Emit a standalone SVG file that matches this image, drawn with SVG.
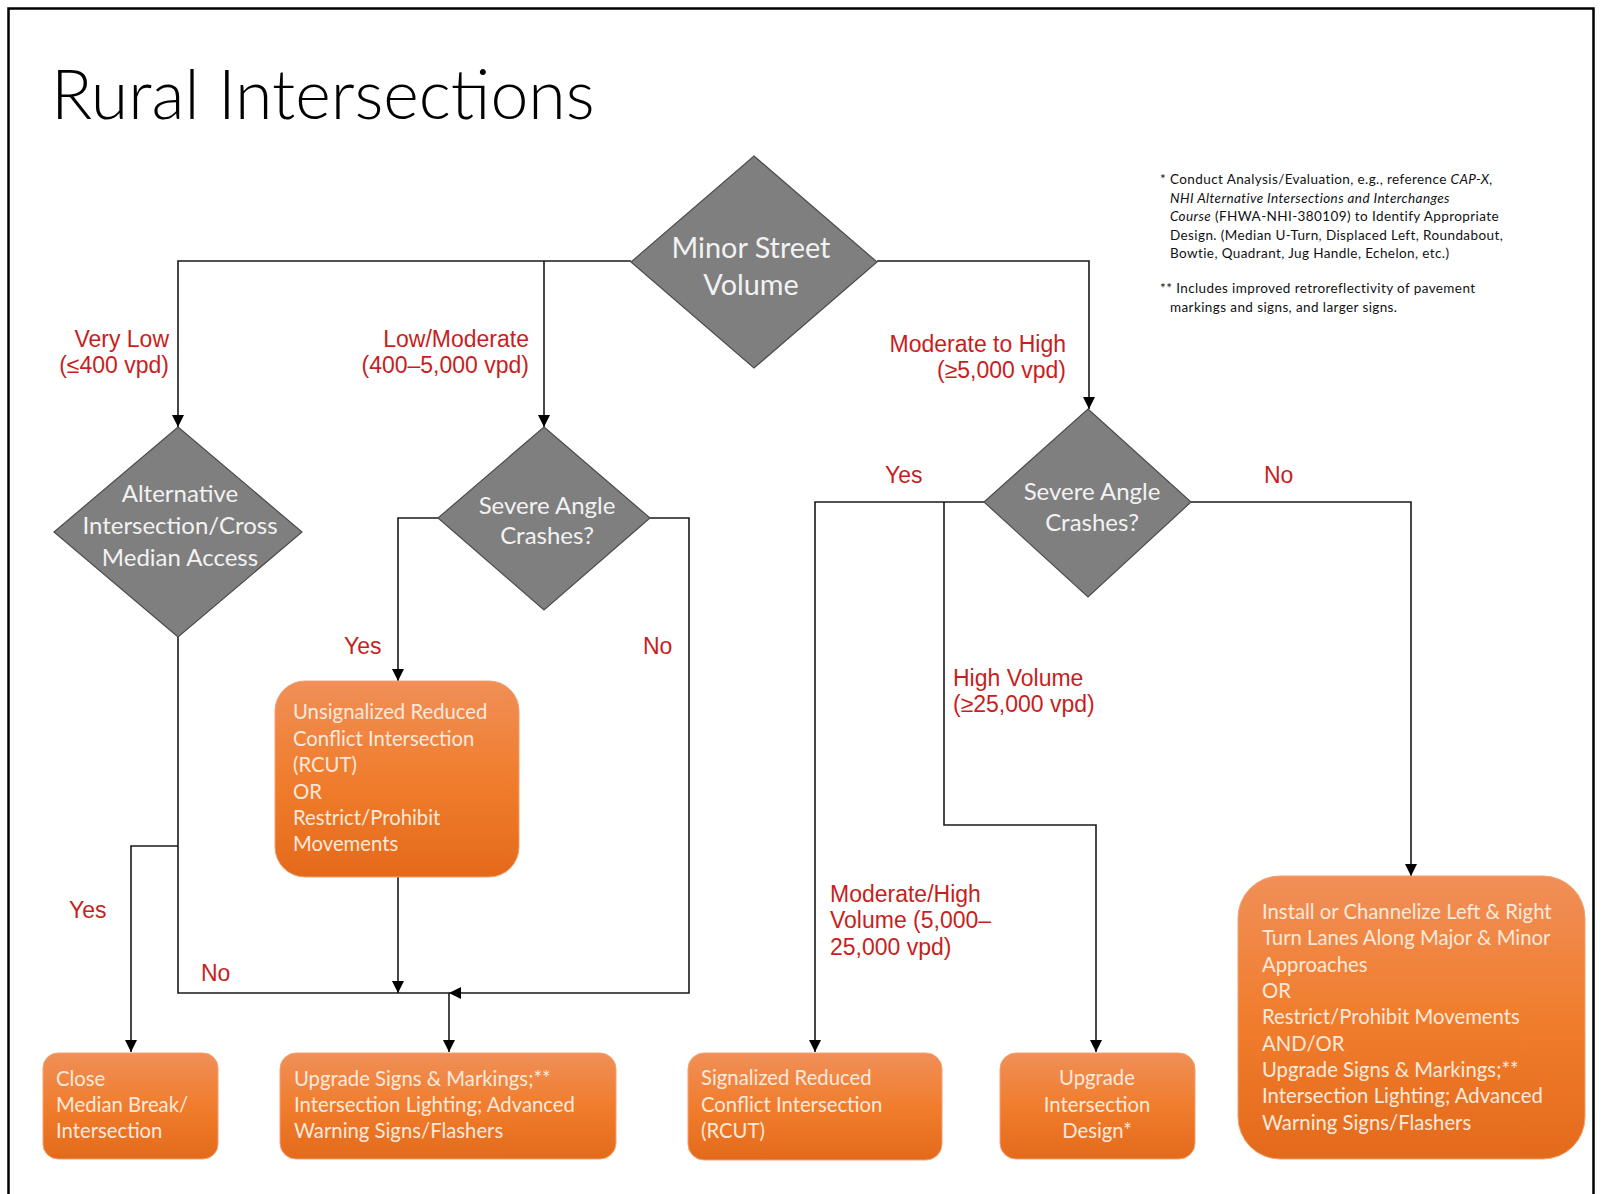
<svg xmlns="http://www.w3.org/2000/svg" width="1602" height="1194" viewBox="0 0 1602 1194">
<style>
.frame{fill:none;stroke:#000;stroke-width:2.5}
.title{font-family:Lato,"Open Sans",sans-serif;font-weight:300;font-size:68px;fill:#000}
.dia{fill:#7f7f7f;stroke:#4d4d4d;stroke-width:1.2}
.dt{font-family:Lato,"Open Sans",sans-serif;fill:#f2f2f2;text-anchor:middle}
.box{fill:url(#og);stroke:#f3a070;stroke-width:1}
.bt{font-family:Lato,"Open Sans",sans-serif;font-size:20.3px;fill:#fde9dc}
.lbl{font-family:"Liberation Sans",Arial,sans-serif;font-size:23px;fill:#c81e1e}
.ln{fill:none;stroke:#1a1a1a;stroke-width:1.6}
.fn{font-family:Lato,"Open Sans",sans-serif;font-size:13.5px;letter-spacing:0.4px;fill:#111}
</style>
<defs>
<linearGradient id="og" x1="0" y1="0" x2="0" y2="1">
<stop offset="0" stop-color="#f08f58"/>
<stop offset="0.5" stop-color="#f07d2d"/>
<stop offset="1" stop-color="#e46a1b"/>
</linearGradient>
<marker id="ah" viewBox="0 0 12 12" markerWidth="12" markerHeight="12" refX="12" refY="6" orient="auto" markerUnits="userSpaceOnUse">
<path d="M0,0 L12,6 L0,12 z" fill="#000"/>
</marker>
</defs>
<rect width="1602" height="1194" fill="#fff"/>
<rect class="frame" x="8.5" y="8.5" width="1585" height="1200"/>
<text class="title" x="51" y="119">Rural Intersections</text>

<g id="footnote" class="fn" xml:space="preserve">
<text x="1160" y="184">* Conduct Analysis/Evaluation,  e.g.,  reference  <tspan font-style="italic">CAP-X,</tspan></text>
<text x="1170" y="202.5" font-style="italic">NHI Alternative  Intersections  and Interchanges</text>
<text x="1170" y="221"><tspan font-style="italic">Course</tspan> (FHWA-NHI-380109) to Identify Appropriate</text>
<text x="1170" y="239.5">Design. (Median  U-Turn,  Displaced Left, Roundabout,</text>
<text x="1170" y="258">Bowtie,  Quadrant,  Jug Handle,  Echelon, etc.)</text>
<text x="1160" y="293">** Includes improved  retroreflectivity  of pavement</text>
<text x="1170" y="311.5">markings  and signs, and larger  signs.</text>
</g>

<g id="connectors">
<path class="ln" d="M631,261 H178 V427" marker-end="url(#ah)"/>
<path class="ln" d="M544,261 V427" marker-end="url(#ah)"/>
<path class="ln" d="M877,261 H1089 V409" marker-end="url(#ah)"/>
<path class="ln" d="M178,637 V993 H449"/>
<path class="ln" d="M178,846 H131 V1052" marker-end="url(#ah)"/>
<path class="ln" d="M438,518 H398 V681" marker-end="url(#ah)"/>
<path class="ln" d="M398,877 V993" marker-end="url(#ah)"/>
<path class="ln" d="M650,518 H689 V993 H449" marker-end="url(#ah)"/>
<path class="ln" d="M449,993 V1052" marker-end="url(#ah)"/>
<path class="ln" d="M984,502 H815 V1052" marker-end="url(#ah)"/>
<path class="ln" d="M944,502 V825 H1096 V1052" marker-end="url(#ah)"/>
<path class="ln" d="M1191,502 H1411 V876" marker-end="url(#ah)"/>
</g>

<g id="labels" class="lbl">
<text x="169" y="347" text-anchor="end">Very Low</text>
<text x="169" y="373" text-anchor="end">(≤400 vpd)</text>
<text x="529" y="347" text-anchor="end">Low/Moderate</text>
<text x="529" y="373" text-anchor="end">(400–5,000 vpd)</text>
<text x="1066" y="352" text-anchor="end">Moderate to High</text>
<text x="1066" y="378" text-anchor="end">(≥5,000 vpd)</text>
<text x="344" y="654">Yes</text>
<text x="643" y="654">No</text>
<text x="885" y="483">Yes</text>
<text x="1264" y="483">No</text>
<text x="953" y="686">High Volume</text>
<text x="953" y="712">(≥25,000 vpd)</text>
<text x="830" y="902">Moderate/High</text>
<text x="830" y="928">Volume (5,000–</text>
<text x="830" y="955">25,000 vpd)</text>
<text x="69" y="918">Yes</text>
<text x="201" y="981">No</text>
</g>

<g id="minor-street-volume">
<polygon class="dia" points="754,156 877,262 754,368 631,262"/>
<text class="dt" font-size="28.8" x="751" y="258">Minor Street</text>
<text class="dt" font-size="28.8" x="751" y="295">Volume</text>
</g>

<g id="alt-intersection">
<polygon class="dia" points="178,427 302,532 178,637 54,532"/>
<text class="dt" font-size="24" x="180" y="502">Alternative</text>
<text class="dt" font-size="24" x="180" y="534">Intersection/Cross</text>
<text class="dt" font-size="24" x="180" y="566">Median Access</text>
</g>

<g id="severe-angle-left">
<polygon class="dia" points="544,427 650,518 544,610 438,518"/>
<text class="dt" font-size="24" x="547" y="514">Severe Angle</text>
<text class="dt" font-size="24" x="547" y="544">Crashes?</text>
</g>

<g id="severe-angle-right">
<polygon class="dia" points="1088,409 1191,502 1088,597 984,502"/>
<text class="dt" font-size="24" x="1092" y="500">Severe Angle</text>
<text class="dt" font-size="24" x="1092" y="531">Crashes?</text>
</g>

<g id="unsignalized-rcut">
<rect class="box" x="275" y="681" width="244" height="196" rx="30"/>
<text class="bt" x="293" y="719">Unsignalized Reduced</text>
<text class="bt" x="293" y="745.5">Conflict Intersection</text>
<text class="bt" x="293" y="772">(RCUT)</text>
<text class="bt" x="293" y="798.5">OR</text>
<text class="bt" x="293" y="825">Restrict/Prohibit</text>
<text class="bt" x="293" y="851">Movements</text>
</g>

<g id="close-median">
<rect class="box" x="43" y="1053" width="175" height="106" rx="15"/>
<text class="bt" x="56" y="1086">Close</text>
<text class="bt" x="56" y="1112">Median Break/</text>
<text class="bt" x="56" y="1138">Intersection</text>
</g>

<g id="upgrade-signs">
<rect class="box" x="280" y="1053" width="336" height="106" rx="16"/>
<text class="bt" x="294" y="1086">Upgrade Signs &amp; Markings;**</text>
<text class="bt" x="294" y="1112">Intersection Lighting; Advanced</text>
<text class="bt" x="294" y="1138">Warning Signs/Flashers</text>
</g>

<g id="signalized-rcut">
<rect class="box" x="688" y="1053" width="254" height="107" rx="16"/>
<text class="bt" x="701" y="1085">Signalized Reduced</text>
<text class="bt" x="701" y="1112">Conflict Intersection</text>
<text class="bt" x="701" y="1138">(RCUT)</text>
</g>

<g id="upgrade-design">
<rect class="box" x="1000" y="1053" width="195" height="106" rx="16"/>
<text class="bt" x="1097" y="1085" text-anchor="middle">Upgrade</text>
<text class="bt" x="1097" y="1112" text-anchor="middle">Intersection</text>
<text class="bt" x="1097" y="1138" text-anchor="middle">Design*</text>
</g>

<g id="turn-lanes">
<rect class="box" x="1238" y="876" width="347" height="283" rx="42"/>
<text class="bt" x="1262" y="919">Install or Channelize Left &amp; Right</text>
<text class="bt" x="1262" y="945">Turn Lanes Along Major &amp; Minor</text>
<text class="bt" x="1262" y="972">Approaches</text>
<text class="bt" x="1262" y="998">OR</text>
<text class="bt" x="1262" y="1024">Restrict/Prohibit Movements</text>
<text class="bt" x="1262" y="1051">AND/OR</text>
<text class="bt" x="1262" y="1077">Upgrade Signs &amp; Markings;**</text>
<text class="bt" x="1262" y="1103">Intersection Lighting; Advanced</text>
<text class="bt" x="1262" y="1130">Warning Signs/Flashers</text>
</g>
</svg>
